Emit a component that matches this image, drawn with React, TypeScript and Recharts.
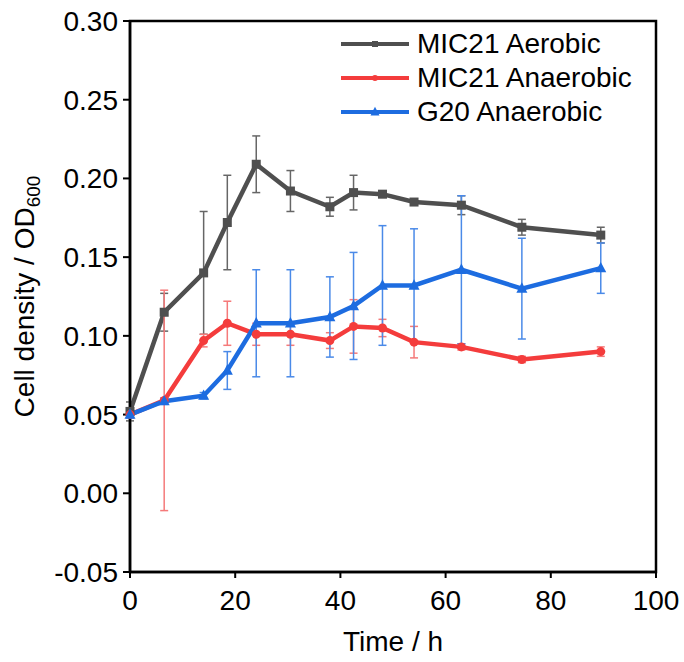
import { CartesianGrid, ComposedChart, ErrorBar, Legend, Line, ReferenceArea, XAxis, YAxis } from "recharts"

const time = [0, 6.5, 14, 18.5, 24, 30.5, 38, 42.5, 48, 54, 63, 74.5, 89.5]

const micAerobic = [0.052, 0.115, 0.14, 0.172, 0.209, 0.192, 0.182, 0.191, 0.19, 0.185, 0.183, 0.169, 0.164]
const micAerobicErr = [0.006, 0.012, 0.039, 0.03, 0.018, 0.013, 0.006, 0.011, 0.002, 0.001, 0.006, 0.005, 0.005]

const micAnaerobic = [0.05, 0.059, 0.097, 0.108, 0.101, 0.101, 0.097, 0.106, 0.105, 0.096, 0.093, 0.085, 0.09]
const micAnaerobicErr = [0.002, 0.07, 0.004, 0.014, 0.007, 0.007, 0.005, 0.017, 0.0055, 0.01, 0.002, 0.002, 0.003]

const g20Anaerobic = [0.05, 0.0585, 0.062, 0.078, 0.108, 0.108, 0.112, 0.119, 0.132, 0.132, 0.142, 0.13, 0.143]
const g20AnaerobicErr = [0.002, 0.002, 0.002, 0.012, 0.034, 0.034, 0.0255, 0.034, 0.038, 0.036, 0.047, 0.032, 0.016]

const xTicks = [0, 20, 40, 60, 80, 100]
const yTicks = [-0.05, 0, 0.05, 0.1, 0.15, 0.2, 0.25, 0.3]

const data = time.map((t, i) => ({
  t,
  aer: micAerobic[i],
  aerErr: micAerobicErr[i],
  ana: micAnaerobic[i],
  anaErr: micAnaerobicErr[i],
  g20: g20Anaerobic[i],
  g20Err: g20AnaerobicErr[i],
}))

const FONT = "'Liberation Sans', Arial, sans-serif"
const FS = 28
const GRAY = "#4f4f4f"
const RED = "#f43c3c"
const BLUE = "#1d6ce0"

const series = [
  { key: "aer", name: "MIC21 Aerobic", color: GRAY, shape: "square" },
  { key: "ana", name: "MIC21 Anaerobic", color: RED, shape: "circle" },
  { key: "g20", name: "G20 Anaerobic", color: BLUE, shape: "triangle" },
]

function marker(shape: string, cx: number, cy: number, s: number, color: string, key?: any) {
  if (shape === "square") return <rect key={key} x={cx - s / 2} y={cy - s / 2} width={s} height={s} fill={color} />
  if (shape === "circle") return <circle key={key} cx={cx} cy={cy} r={s / 2} fill={color} />
  const h = s * 0.95
  return (
    <polygon
      key={key}
      points={`${cx},${cy - h * 0.6} ${cx - s / 2},${cy + h * 0.4} ${cx + s / 2},${cy + h * 0.4}`}
      fill={color}
    />
  )
}

const makeDot = (shape: string, color: string, s: number) => (props: any) => {
  const { cx, cy, index } = props
  if (cx == null || cy == null) return <g key={index} />
  return marker(shape, cx, cy, s, color, index)
}

function YLabel(props: any) {
  const { viewBox } = props
  const cy = viewBox.y + viewBox.height / 2
  const x = 34
  return (
    <text
      x={x}
      y={cy}
      transform={`rotate(-90, ${x}, ${cy})`}
      textAnchor="middle"
      fontSize={FS}
      fontFamily={FONT}
      fill="#000"
    >
      Cell density / OD
      <tspan fontSize={19} dy={6}>
        600
      </tspan>
    </text>
  )
}

function renderLegend() {
  return (
    <div style={{ fontFamily: FONT, fontSize: FS, color: "#000" }}>
      {series.map((s) => (
        <div key={s.key} style={{ display: "flex", alignItems: "center", height: 34 }}>
          <svg width={68} height={20} style={{ marginRight: 8 }}>
            <line x1={0} y1={10} x2={68} y2={10} stroke={s.color} strokeWidth={4} />
            {marker(s.shape, 34, 10, s.shape === "triangle" ? 9 : 6, s.color)}
          </svg>
          <span style={{ lineHeight: "34px", whiteSpace: "nowrap" }}>{s.name}</span>
        </div>
      ))}
    </div>
  )
}

export default function App() {
  const tickStyle = { fill: "#000", fontSize: FS, fontFamily: FONT }
  return (
    <div style={{ position: "absolute", left: 0, top: 0, width: 684, height: 662, background: "#fff" }}>
      <ComposedChart width={684} height={662} data={data} margin={{ top: 21, right: 28, bottom: 0, left: 0 }}>
        <CartesianGrid stroke="none" />
        <XAxis
          dataKey="t"
          type="number"
          domain={[0, 100]}
          ticks={xTicks}
          height={90}
          tick={tickStyle}
          tickSize={6}
          tickMargin={12}
          axisLine={{ stroke: "#000", strokeWidth: 2.5 }}
          tickLine={{ stroke: "#000", strokeWidth: 2 }}
          label={{ value: "Time / h", position: "insideBottom", offset: 11, fontSize: FS, fontFamily: FONT, fill: "#000" }}
        />
        <YAxis
          type="number"
          domain={[-0.05, 0.3]}
          ticks={yTicks}
          width={130}
          tick={tickStyle}
          tickSize={7}
          tickMargin={5}
          tickFormatter={(v) => v.toFixed(2)}
          axisLine={{ stroke: "#000", strokeWidth: 2.5 }}
          tickLine={{ stroke: "#000", strokeWidth: 2 }}
          label={<YLabel />}
        />
        <ReferenceArea x1={0} x2={100} y1={-0.05} y2={0.3} fill="none" stroke="#000" strokeWidth={2.5} ifOverflow="visible" />
        <Line
          dataKey="aer"
          name="MIC21 Aerobic"
          stroke={GRAY}
          strokeWidth={4.5}
          dot={makeDot("square", GRAY, 9)}
          isAnimationActive={false}
        >
          <ErrorBar dataKey="aerErr" direction="y" width={4} stroke="#666" strokeWidth={1.5} />
        </Line>
        <Line
          dataKey="ana"
          name="MIC21 Anaerobic"
          stroke={RED}
          strokeWidth={4.5}
          dot={makeDot("circle", RED, 9)}
          isAnimationActive={false}
        >
          <ErrorBar dataKey="anaErr" direction="y" width={4} stroke="#f57a7a" strokeWidth={1.5} />
        </Line>
        <Line
          dataKey="g20"
          name="G20 Anaerobic"
          stroke={BLUE}
          strokeWidth={4.5}
          dot={makeDot("triangle", BLUE, 11)}
          isAnimationActive={false}
        >
          <ErrorBar dataKey="g20Err" direction="y" width={4} stroke="#4a8ae8" strokeWidth={1.5} />
        </Line>
        <Legend
          layout="vertical"
          align="center"
          verticalAlign="middle"
          content={renderLegend}
          wrapperStyle={{ top: 27, left: 341, width: 330 }}
        />
      </ComposedChart>
    </div>
  )
}
